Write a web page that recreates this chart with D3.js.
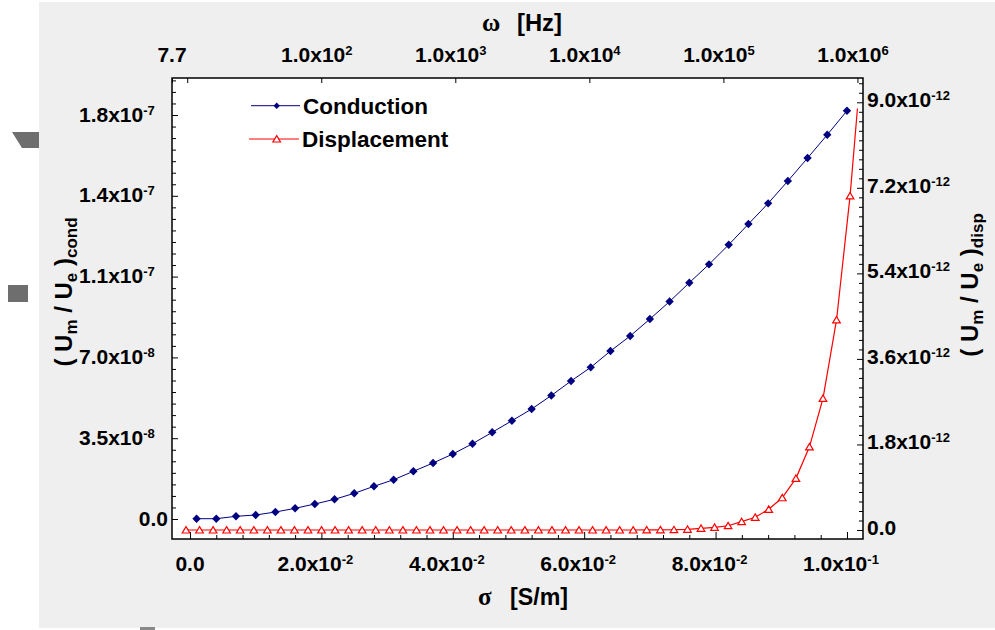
<!DOCTYPE html>
<html><head><meta charset="utf-8">
<script src="https://cdn.jsdelivr.net/npm/d3@7"></script>
<style>
body{margin:0;background:#fff;}
svg{display:block;}
text{font-family:"Liberation Sans",Arial,sans-serif;font-weight:bold;fill:#000;}
</style>
</head><body><svg id="c" width="995" height="630"></svg>
<script>
// ---------------- data ----------------
const sigmaCond = [0.001,0.004,0.007,0.010,0.013,0.016,0.019,0.022,0.025,0.028,0.031,0.034,0.037,0.040,0.043,0.046,0.049,0.052,0.055,0.058,0.061,0.064,0.067,0.070,0.073,0.076,0.079,0.082,0.085,0.088,0.091,0.094,0.097,0.100];
// (Um/Ue)cond in units of 1e-8
const condValues = [0.013,0.013,0.117,0.173,0.303,0.463,0.650,0.853,1.113,1.416,1.702,2.066,2.425,2.815,3.261,3.755,4.257,4.764,5.349,5.977,6.570,7.276,7.926,8.662,9.420,10.234,11.031,11.880,12.776,13.673,14.639,15.635,16.644,17.683];
// log10(omega [Hz]) for displacement series
const dispLogOmega = [0.991,1.092,1.193,1.294,1.395,1.497,1.598,1.699,1.800,1.901,2.002,2.103,2.204,2.305,2.406,2.508,2.609,2.710,2.811,2.912,3.013,3.114,3.215,3.316,3.417,3.519,3.620,3.721,3.822,3.923,4.024,4.125,4.226,4.327,4.428,4.530,4.631,4.732,4.833,4.934,5.035,5.136,5.237,5.338,5.439,5.541,5.642,5.743,5.844,5.945,6.000];
// (Um/Ue)disp in units of 1e-12
const dispValues = [0,0,0,0,0,0,0,0,0,0,0,0,0,0,0,0,0,0,0,0,0,0,0,0,0,0,0,0,0,0,0,0,0,0,0.003,0.004,0.006,0.015,0.036,0.057,0.090,0.175,0.267,0.435,0.679,1.087,1.75,2.77,4.42,7.03,8.87];

const bottomTicks = [0,0.02,0.04,0.06,0.08,0.1];
const bottomTickLabels = ["0.0","2.0x10^-2","4.0x10^-2","6.0x10^-2","8.0x10^-2","1.0x10^-1"];
const topTicks = [7.7,10,1e2,1e3,1e4,1e5,1e6];
const topTickLabels = ["7.7","","1.0x10^2","1.0x10^3","1.0x10^4","1.0x10^5","1.0x10^6"];
const leftTicks = [0,3.5e-8,7e-8,1.05e-7,1.4e-7,1.75e-7];
const leftTickLabels = ["0.0","3.5x10^-8","7.0x10^-8","1.1x10^-7","1.4x10^-7","1.8x10^-7"];
const rightTicks = [0,1.8e-12,3.6e-12,5.4e-12,7.2e-12,9e-12];
const rightTickLabels = ["0.0","1.8x10^-12","3.6x10^-12","5.4x10^-12","7.2x10^-12","9.0x10^-12"];
const seriesNames = ["Conduction","Displacement"];

// ---------------- layout ----------------
const P = {l:172, r:863, t:78, b:539};
const svg = d3.select("#c");

// outer gray panel and stray shapes
svg.append("rect").attr("x",39).attr("y",2).attr("width",956).attr("height",626).attr("fill","#efefef");
svg.append("path").attr("d","M12,132L39,132L39,148L22,148Z").attr("fill","#6e6e6e");
svg.append("rect").attr("x",8).attr("y",285).attr("width",20).attr("height",17).attr("fill","#6e6e6e");
svg.append("rect").attr("x",140).attr("y",627).attr("width",15).attr("height",3).attr("fill","#888");

svg.append("rect").attr("x",P.l).attr("y",P.t).attr("width",P.r-P.l).attr("height",P.b-P.t).attr("fill","#fff");

const x = d3.scaleLinear().domain([-0.00274,0.10244]).range([P.l,P.r]);
const xTop = d3.scaleLog().domain([7.7,1.1e6]).range([P.l,P.r]);
const yL = d3.scaleLinear().domain([-8.66e-9,1.9103e-7]).range([P.b,P.t]);
const yR = d3.scaleLinear().domain([-0.1894e-12,9.511e-12]).range([P.b,P.t]);

function axisDraw(axis, tr){
  const g = svg.append("g").attr("transform",tr).call(axis);
  g.select(".domain").remove();
  g.selectAll(".tick line").attr("stroke","#000").attr("stroke-width",1);
  return g;
}
function minorVals(step, lo, hi, majors){
  const out=[]; const n=Math.round((hi-lo)/step);
  for(let i=0;i<=n;i++){const v=lo+i*step; if(!majors.some(m=>Math.abs(m-v)<step*1e-3)) out.push(v);} return out;
}
// bottom
axisDraw(d3.axisBottom(x).tickValues(bottomTicks).tickSize(-7).tickFormat(""), `translate(0,${P.b})`);
axisDraw(d3.axisBottom(x).tickValues(minorVals(0.004,0,0.1,bottomTicks)).tickSize(-4).tickFormat(""), `translate(0,${P.b})`);
// top
axisDraw(d3.axisTop(xTop).tickValues(topTicks).tickSize(-5).tickFormat(""), `translate(0,${P.t})`);
// left
axisDraw(d3.axisLeft(yL).tickValues(leftTicks).tickSize(-6).tickFormat(""), `translate(${P.l},0)`);
axisDraw(d3.axisLeft(yL).tickValues(minorVals(5e-9,0,1.9e-7,leftTicks)).tickSize(-4).tickFormat(""), `translate(${P.l},0)`);
// right
axisDraw(d3.axisRight(yR).tickValues(rightTicks).tickSize(-6).tickFormat(""), `translate(${P.r},0)`);
axisDraw(d3.axisRight(yR).tickValues(minorVals(0.2e-12,0,9.4e-12,rightTicks)).tickSize(-4).tickFormat(""), `translate(${P.r},0)`);

// frame
svg.append("rect").attr("x",P.l).attr("y",P.t).attr("width",P.r-P.l).attr("height",P.b-P.t)
  .attr("fill","none").attr("stroke","#000").attr("stroke-width",1.5);

// rich labels
function rich(str, px, py, mode, shift){
  const parts = str.split("^");
  const t = svg.append("text").attr("y",py).attr("font-size",21);
  t.append("tspan").text(parts[0]);
  if(parts[1]) t.append("tspan").attr("dy",-7).attr("font-size",13).text(parts[1]);
  if(mode==="center"){
    const w=t.node().getComputedTextLength();
    t.attr("x",px-w/2+(parts[1]?shift:0));
  }
  else if(mode==="end"){ t.attr("x",px).attr("text-anchor","end"); }
  else t.attr("x",px);
  return t;
}
bottomTicks.forEach((v,i)=>rich(bottomTickLabels[i], x(v), 571, "center", -6));
topTicks.forEach((v,i)=>{ if(topTickLabels[i]) rich(topTickLabels[i], xTop(v), 61.5, "center", -4.5); });
leftTicks.forEach((v,i)=>{
  const s=leftTickLabels[i];
  if(s.includes("^")) rich(s, 79, yL(v)+6.5, "start"); else rich(s, 168, yL(v)+6.5, "end");
});
rightTicks.forEach((v,i)=>rich(rightTickLabels[i], 867, yR(v)+5, "start"));

// axis titles
svg.append("text").attr("x",482).attr("y",31).attr("font-size",25)
  .style("font-family","'Liberation Serif','Times New Roman',serif").text("ω");
svg.append("text").attr("x",517).attr("y",31).attr("font-size",23.8).text("[Hz]");
svg.append("text").attr("x",478).attr("y",605).attr("font-size",25)
  .style("font-family","'Liberation Serif','Times New Roman',serif").text("σ");
svg.append("text").attr("x",510).attr("y",605).attr("font-size",23.2).text("[S/m]");

function yTitle(cx, cy, sub){
  const t = svg.append("text").attr("transform",`translate(${cx},${cy}) rotate(-90)`)
    .attr("text-anchor","middle").attr("font-size",24);
  t.append("tspan").text("( U");
  t.append("tspan").attr("font-size",17).attr("dy",5).text("m");
  t.append("tspan").attr("dy",-5).text(" / U");
  t.append("tspan").attr("font-size",17).attr("dy",5).text("e");
  t.append("tspan").attr("dy",-5).text(" )");
  t.append("tspan").attr("font-size",17).attr("dy",5).text(sub);
}
yTitle(72, 292, "cond");
yTitle(978, 285, "disp");

// clip
svg.append("clipPath").attr("id","clip").append("rect")
  .attr("x",P.l).attr("y",P.t).attr("width",P.r-P.l).attr("height",P.b-P.t);
const plot = svg.append("g").attr("clip-path","url(#clip)");

const cond = sigmaCond.map((s,i)=>({x:x(s), y:yL(condValues[i]*1e-8)}));
const disp = dispLogOmega.map((e,i)=>({x:xTop(Math.pow(10,e)), y:yR(dispValues[i]*1e-12)}));
const line = d3.line().x(d=>d.x).y(d=>d.y);

const diamond = "M0,-4.2L4.2,0L0,4.2L-4.2,0Z";
const diamondSmall = "M0,-3.2L3.2,0L0,3.2L-3.2,0Z";
const tri = "M0,-3.4L3.8,3L-3.8,3Z";

plot.append("path").attr("d",line(disp)).attr("fill","none").attr("stroke","#ff0000").attr("stroke-width",1.2);
plot.selectAll(".tri").data(disp.slice(0,-1)).join("path").attr("d",tri)
  .attr("transform",d=>`translate(${d.x},${d.y})`).attr("fill","#fff").attr("stroke","#ff0000").attr("stroke-width",1.2);

plot.append("path").attr("d",line(cond)).attr("fill","none").attr("stroke","#000080").attr("stroke-width",1);
plot.selectAll(".dia").data(cond).join("path").attr("d",diamond)
  .attr("transform",d=>`translate(${d.x},${d.y})`).attr("fill","#000080");

// legend
const lg = svg.append("g");
lg.append("line").attr("x1",251).attr("x2",300).attr("y1",105.7).attr("y2",105.7).attr("stroke","#000080").attr("stroke-width",1);
lg.append("path").attr("d",diamondSmall).attr("transform","translate(276.7,105.7)").attr("fill","#000080");
lg.append("text").attr("x",303).attr("y",113.5).attr("font-size",22.5).text(seriesNames[0]);
lg.append("line").attr("x1",249).attr("x2",299).attr("y1",139).attr("y2",139).attr("stroke","#ff0000").attr("stroke-width",1.2);
lg.append("path").attr("d",tri).attr("transform","translate(276.7,139)").attr("fill","#fff").attr("stroke","#ff0000").attr("stroke-width",1.2);
lg.append("text").attr("x",302).attr("y",147).attr("font-size",22.5).text(seriesNames[1]);
</script>
</body></html>
